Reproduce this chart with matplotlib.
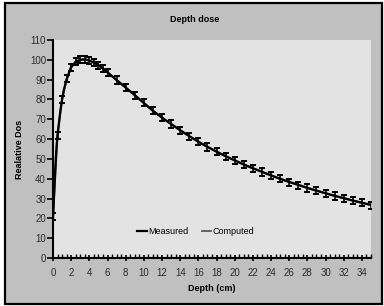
import numpy as np
import matplotlib.pyplot as plt
from matplotlib.patches import Rectangle
from matplotlib.lines import Line2D
from matplotlib.ticker import MultipleLocator

plt.rcParams['font.family'] = ['Liberation Sans', 'DejaVu Sans']

# measured depth dose curve
depth_meas = [0, 0.1, 0.2, 0.3, 0.4, 0.5, 0.6, 0.8, 1.0, 1.2, 1.5, 1.8, 2.0,
              2.5, 3.0, 3.5, 4.0, 4.5, 5, 6, 7, 8, 9,
              10, 11, 12, 13, 14, 15, 16, 17, 18, 19, 20, 21, 22, 23, 24,
              25, 26, 27, 28, 29, 30, 31, 32, 33, 34, 35]
dose_meas = [20, 30, 40, 50, 57, 62, 66, 74, 80, 85, 90, 94, 96.5,
             99, 100, 100.2, 99.6, 98.6, 97.4, 93.7, 89.8, 86, 82.2,
             78.2, 74.2, 70.8, 67.6, 64.5, 61.5, 58.7, 56.1, 53.7, 51.4,
             49.3, 47.2, 45.3, 43.5, 41.7, 40.0, 38.4, 36.9, 35.4, 34.0,
             32.7, 31.4, 30.2, 29.0, 27.9, 26.8]

# computed curve with error bars
depth_comp = [0, 0.5, 1, 1.5, 2, 2.5, 3, 3.5, 4, 4.5, 5, 5.5, 6,
              7, 8, 9, 10, 11, 12, 13, 14, 15, 16, 17, 18, 19, 20,
              21, 22, 23, 24, 25, 26, 27, 28, 29, 30, 31, 32, 33, 34, 35]
dose_comp = [21, 62, 80, 90.5, 96, 99, 100, 100.3, 99.7, 98.6, 97.3, 95.6, 93.6,
             89.8, 86, 82.1, 78.3, 74.4, 70.9, 67.6, 64.4, 61.4, 58.6, 56, 53.6,
             51.3, 49.2, 47.1, 45.2, 43.4, 41.6, 39.9, 38.3, 36.8, 35.3, 33.9,
             32.6, 31.3, 30.1, 28.9, 27.8, 26.7]
err_comp = [1.8] * len(depth_comp)

fig = plt.figure(figsize=(3.84, 3.06), dpi=100)
fig.patch.set_facecolor('white')
# grey chart area with black frame
fig.patches.append(Rectangle((5 / 384, 2 / 306), 377 / 384, 301 / 306,
                             transform=fig.transFigure, facecolor='#c0c0c0',
                             edgecolor='black', linewidth=1.6, zorder=-10))

ax = fig.add_axes([53 / 384, 48 / 306, 318 / 384, 218 / 306])
ax.set_facecolor('#e3e3e3')

ax.plot(depth_meas, dose_meas, color='black', lw=1.6, zorder=3)
ax.errorbar(depth_comp, dose_comp, yerr=err_comp, color='#3a3a3a', lw=1.4,
            ecolor='black', elinewidth=1.2, capsize=2.5, capthick=1.4, zorder=2)

ax.set_xlim(0, 35)
ax.set_ylim(0, 110)
ax.xaxis.set_major_locator(MultipleLocator(2))
ax.xaxis.set_minor_locator(MultipleLocator(0.5))
ax.yaxis.set_major_locator(MultipleLocator(10))

for s in ['top', 'right']:
    ax.spines[s].set_visible(False)
for s in ['left', 'bottom']:
    ax.spines[s].set_linewidth(1.5)

ax.tick_params(axis='both', labelsize=7, colors='black', labelcolor='#2a2a2a')
ax.tick_params(axis='y', direction='out', length=4, width=1.2, pad=1)
ax.tick_params(axis='x', which='major', direction='inout', length=5, width=1.2, pad=5)
ax.tick_params(axis='x', which='minor', direction='in', length=3, width=1.0)

ax.set_xlabel('Depth (cm)', fontsize=6.5, fontweight='bold', labelpad=4)
ax.set_ylabel('Realative Dos', fontsize=6.5, fontweight='bold', labelpad=4)
fig.text(195 / 384, 1 - 20 / 306, 'Depth dose', ha='center', va='center',
         fontsize=6.5, fontweight='bold')

handles = [Line2D([], [], color='black', lw=1.6),
           Line2D([], [], color='#5a5a5a', lw=1.3)]
ax.legend(handles, ['Measured', 'Computed'], loc='center',
          bbox_to_anchor=(0.45, 0.12), ncol=2, frameon=False,
          fontsize=6.5, handlelength=1.0, handletextpad=0.2, columnspacing=1.5)

fig.savefig('out.png', dpi=100)
